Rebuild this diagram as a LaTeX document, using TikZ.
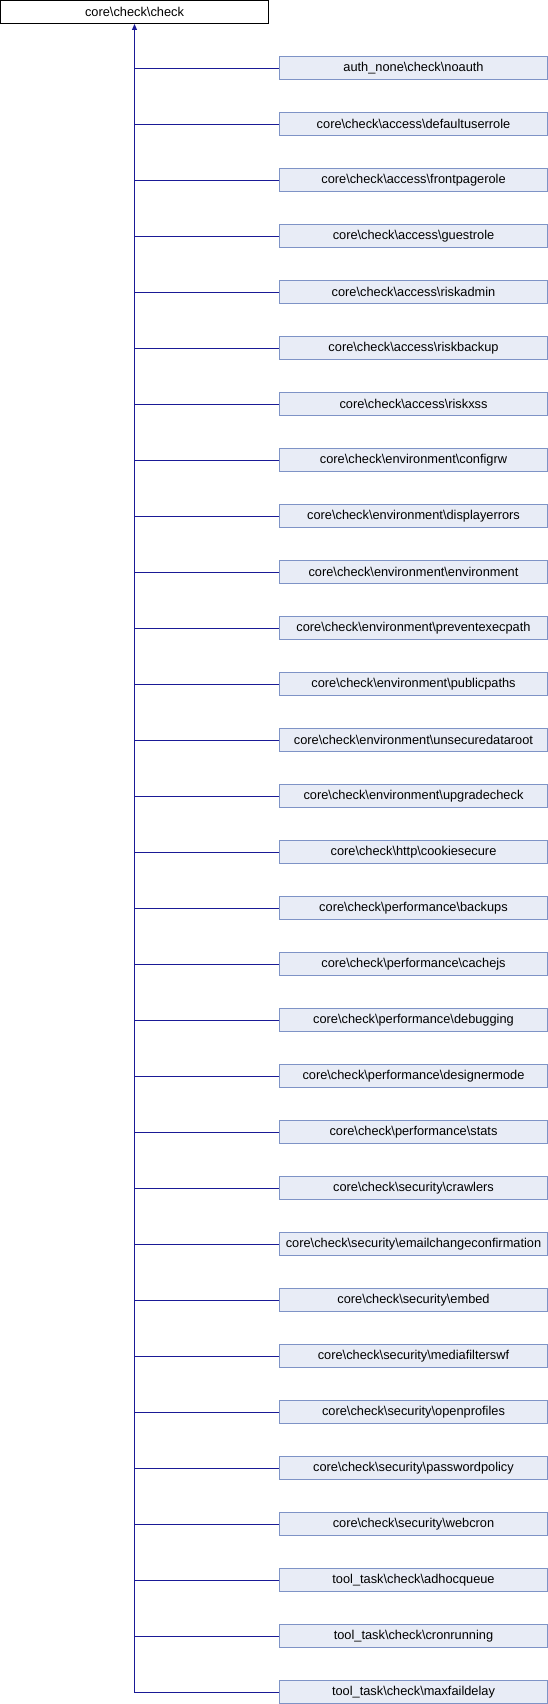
\documentclass[tikz,border=0pt]{standalone}
\usepackage{fontspec}
\setmainfont{Liberation Sans}
\usetikzlibrary{arrows.meta}
\definecolor{boxfill}{HTML}{E8ECF6}
\definecolor{boxline}{HTML}{7E93C6}
\definecolor{edge}{HTML}{1A1A96}
\begin{document}
\begin{tikzpicture}[x=1pt,y=-1pt,
  base/.style={minimum width=268pt,minimum height=23pt,inner sep=0pt,font=\fontsize{12.8}{14}\selectfont,line width=0.9pt},
  parentbox/.style={base,draw=black,fill=white},
  childbox/.style={base,draw=boxline,fill=boxfill},
  link/.style={draw=edge,line width=0.9pt},
  tip/.style={link,-{Triangle[length=6pt,width=5pt]}}]
\useasboundingbox (0,0) rectangle (548,1704);
\node[parentbox] (top) at (134.5,12) {core\textbackslash check\textbackslash check};
\foreach [count=\i from 0] \t in {
auth\_none\textbackslash check\textbackslash noauth,
core\textbackslash check\textbackslash access\textbackslash defaultuserrole,
core\textbackslash check\textbackslash access\textbackslash frontpagerole,
core\textbackslash check\textbackslash access\textbackslash guestrole,
core\textbackslash check\textbackslash access\textbackslash riskadmin,
core\textbackslash check\textbackslash access\textbackslash riskbackup,
core\textbackslash check\textbackslash access\textbackslash riskxss,
core\textbackslash check\textbackslash environment\textbackslash configrw,
core\textbackslash check\textbackslash environment\textbackslash displayerrors,
core\textbackslash check\textbackslash environment\textbackslash environment,
core\textbackslash check\textbackslash environment\textbackslash preventexecpath,
core\textbackslash check\textbackslash environment\textbackslash publicpaths,
core\textbackslash check\textbackslash environment\textbackslash unsecuredataroot,
core\textbackslash check\textbackslash environment\textbackslash upgradecheck,
core\textbackslash check\textbackslash http\textbackslash cookiesecure,
core\textbackslash check\textbackslash performance\textbackslash backups,
core\textbackslash check\textbackslash performance\textbackslash cachejs,
core\textbackslash check\textbackslash performance\textbackslash debugging,
core\textbackslash check\textbackslash performance\textbackslash designermode,
core\textbackslash check\textbackslash performance\textbackslash stats,
core\textbackslash check\textbackslash security\textbackslash crawlers,
core\textbackslash check\textbackslash security\textbackslash emailchangeconfirmation,
core\textbackslash check\textbackslash security\textbackslash embed,
core\textbackslash check\textbackslash security\textbackslash mediafilterswf,
core\textbackslash check\textbackslash security\textbackslash openprofiles,
core\textbackslash check\textbackslash security\textbackslash passwordpolicy,
core\textbackslash check\textbackslash security\textbackslash webcron,
tool\_task\textbackslash check\textbackslash adhocqueue,
tool\_task\textbackslash check\textbackslash cronrunning,
tool\_task\textbackslash check\textbackslash maxfaildelay}
{
  \node[childbox] (c\i) at (413.5,{68+56*\i}) {\t};
}
\draw[tip] (c29.west) -| (top.south);
\foreach \i in {0,...,28} {
  \draw[link] (c\i.west) -- (c\i.west -| top.south);
}
\end{tikzpicture}
\end{document}
